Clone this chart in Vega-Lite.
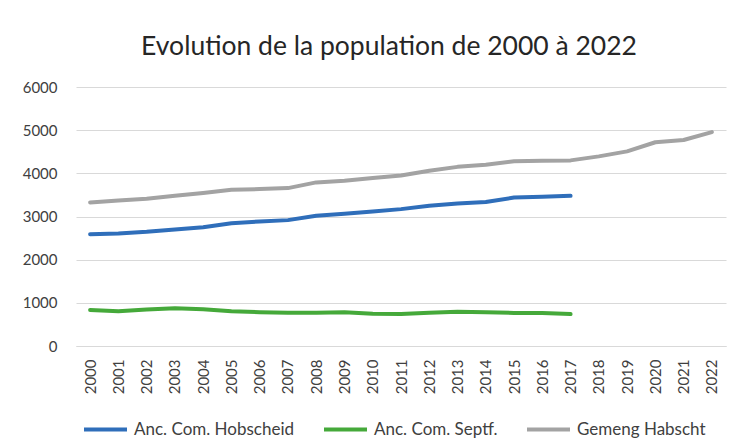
{
  "$schema": "https://vega.github.io/schema/vega-lite/v6.json",
  "autosize": {"type": "none"},
  "width": 650,
  "height": 259,
  "padding": {"left": 76, "top": 87, "right": 10, "bottom": 102},
  "background": "white",
  "title": {
    "text": "Evolution de la population de 2000 à 2022",
    "font": "Lato",
    "fontSize": 26.5,
    "fontWeight": "normal",
    "color": "#262626",
    "anchor": "middle",
    "baseline": "alphabetic",
    "offset": -1,
    "dx": -12
  },
  "data": {
    "values": [
      {"year": "2000", "series": "Anc. Com. Hobscheid", "value": 2591},
      {"year": "2001", "series": "Anc. Com. Hobscheid", "value": 2606},
      {"year": "2002", "series": "Anc. Com. Hobscheid", "value": 2645},
      {"year": "2003", "series": "Anc. Com. Hobscheid", "value": 2699},
      {"year": "2004", "series": "Anc. Com. Hobscheid", "value": 2753},
      {"year": "2005", "series": "Anc. Com. Hobscheid", "value": 2846},
      {"year": "2006", "series": "Anc. Com. Hobscheid", "value": 2885},
      {"year": "2007", "series": "Anc. Com. Hobscheid", "value": 2916},
      {"year": "2008", "series": "Anc. Com. Hobscheid", "value": 3016},
      {"year": "2009", "series": "Anc. Com. Hobscheid", "value": 3063},
      {"year": "2010", "series": "Anc. Com. Hobscheid", "value": 3117},
      {"year": "2011", "series": "Anc. Com. Hobscheid", "value": 3171},
      {"year": "2012", "series": "Anc. Com. Hobscheid", "value": 3248},
      {"year": "2013", "series": "Anc. Com. Hobscheid", "value": 3300},
      {"year": "2014", "series": "Anc. Com. Hobscheid", "value": 3335},
      {"year": "2015", "series": "Anc. Com. Hobscheid", "value": 3440},
      {"year": "2016", "series": "Anc. Com. Hobscheid", "value": 3460},
      {"year": "2017", "series": "Anc. Com. Hobscheid", "value": 3478},
      {"year": "2000", "series": "Anc. Com. Septf.", "value": 835},
      {"year": "2001", "series": "Anc. Com. Septf.", "value": 805},
      {"year": "2002", "series": "Anc. Com. Septf.", "value": 843},
      {"year": "2003", "series": "Anc. Com. Septf.", "value": 874},
      {"year": "2004", "series": "Anc. Com. Septf.", "value": 851},
      {"year": "2005", "series": "Anc. Com. Septf.", "value": 805},
      {"year": "2006", "series": "Anc. Com. Septf.", "value": 782},
      {"year": "2007", "series": "Anc. Com. Septf.", "value": 773},
      {"year": "2008", "series": "Anc. Com. Septf.", "value": 773},
      {"year": "2009", "series": "Anc. Com. Septf.", "value": 782},
      {"year": "2010", "series": "Anc. Com. Septf.", "value": 745},
      {"year": "2011", "series": "Anc. Com. Septf.", "value": 742},
      {"year": "2012", "series": "Anc. Com. Septf.", "value": 773},
      {"year": "2013", "series": "Anc. Com. Septf.", "value": 795},
      {"year": "2014", "series": "Anc. Com. Septf.", "value": 782},
      {"year": "2015", "series": "Anc. Com. Septf.", "value": 765},
      {"year": "2016", "series": "Anc. Com. Septf.", "value": 765},
      {"year": "2017", "series": "Anc. Com. Septf.", "value": 740},
      {"year": "2000", "series": "Gemeng Habscht", "value": 3325},
      {"year": "2001", "series": "Gemeng Habscht", "value": 3371},
      {"year": "2002", "series": "Gemeng Habscht", "value": 3410},
      {"year": "2003", "series": "Gemeng Habscht", "value": 3480},
      {"year": "2004", "series": "Gemeng Habscht", "value": 3543},
      {"year": "2005", "series": "Gemeng Habscht", "value": 3619},
      {"year": "2006", "series": "Gemeng Habscht", "value": 3635},
      {"year": "2007", "series": "Gemeng Habscht", "value": 3658},
      {"year": "2008", "series": "Gemeng Habscht", "value": 3790},
      {"year": "2009", "series": "Gemeng Habscht", "value": 3828},
      {"year": "2010", "series": "Gemeng Habscht", "value": 3890},
      {"year": "2011", "series": "Gemeng Habscht", "value": 3952},
      {"year": "2012", "series": "Gemeng Habscht", "value": 4060},
      {"year": "2013", "series": "Gemeng Habscht", "value": 4150},
      {"year": "2014", "series": "Gemeng Habscht", "value": 4200},
      {"year": "2015", "series": "Gemeng Habscht", "value": 4278},
      {"year": "2016", "series": "Gemeng Habscht", "value": 4290},
      {"year": "2017", "series": "Gemeng Habscht", "value": 4300},
      {"year": "2018", "series": "Gemeng Habscht", "value": 4393},
      {"year": "2019", "series": "Gemeng Habscht", "value": 4509},
      {"year": "2020", "series": "Gemeng Habscht", "value": 4720},
      {"year": "2021", "series": "Gemeng Habscht", "value": 4772},
      {"year": "2022", "series": "Gemeng Habscht", "value": 4955}
    ]
  },
  "mark": {"type": "line", "strokeWidth": 4, "strokeCap": "round", "strokeJoin": "round"},
  "encoding": {
    "x": {
      "field": "year",
      "type": "ordinal",
      "scale": {"type": "point", "padding": 0.5, "domain": ["2000","2001","2002","2003","2004","2005","2006","2007","2008","2009","2010","2011","2012","2013","2014","2015","2016","2017","2018","2019","2020","2021","2022"]},
      "axis": {
        "title": null,
        "labelAngle": -90,
        "labelFont": "Lato",
        "labelFontSize": 15,
        "labelColor": "#404040",
        "labelPadding": 13,
        "ticks": false,
        "domainColor": "#d9d9d9",
        "domainWidth": 1,
        "grid": false
      }
    },
    "y": {
      "field": "value",
      "type": "quantitative",
      "scale": {"domain": [0, 6000], "nice": false},
      "axis": {
        "title": null,
        "values": [0, 1000, 2000, 3000, 4000, 5000, 6000],
        "format": "d",
        "labelFont": "Lato",
        "labelFontSize": 15,
        "labelColor": "#404040",
        "labelPadding": 19,
        "ticks": false,
        "domain": false,
        "grid": true,
        "gridColor": "#d9d9d9",
        "gridWidth": 1
      }
    },
    "color": {
      "field": "series",
      "type": "nominal",
      "scale": {
        "domain": ["Anc. Com. Hobscheid", "Anc. Com. Septf.", "Gemeng Habscht"],
        "range": ["#2F6EBA", "#45A93A", "#A3A3A3"]
      },
      "legend": {
        "title": null,
        "orient": "none",
        "legendX": 6,
        "legendY": 319,
        "direction": "horizontal",
        "symbolType": "stroke",
        "symbolStrokeWidth": 4,
        "symbolSize": 1849,
        "labelFont": "Lato",
        "labelFontSize": 17,
        "labelColor": "#404040",
        "labelOffset": 5,
        "labelLimit": 400,
        "gridAlign": "none",
        "columnPadding": 21
      }
    }
  },
  "config": {"view": {"stroke": null}}
}
